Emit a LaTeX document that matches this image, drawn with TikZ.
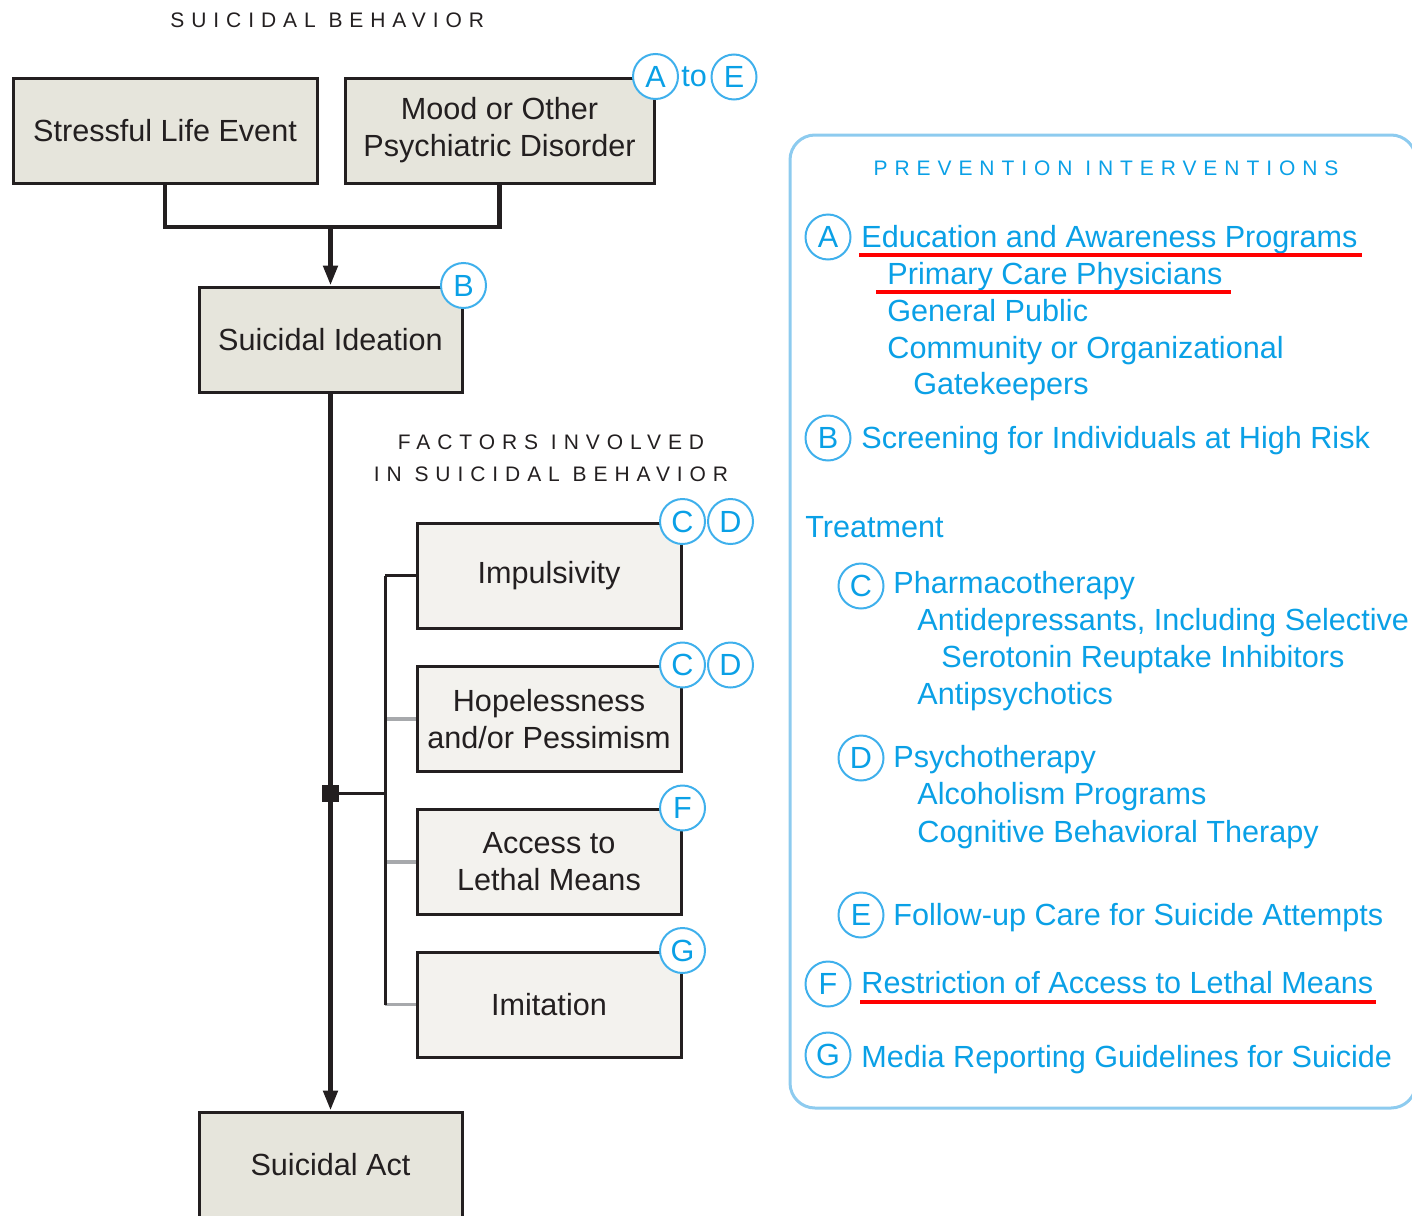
\documentclass[tikz,border=0pt]{standalone}
\usepackage{fontspec}
\setmainfont{Liberation Sans}
\newfontfamily\spacedfont[LetterSpace=33]{Liberation Sans}
\usetikzlibrary{arrows.meta}
\definecolor{ink}{HTML}{231F20}
\definecolor{fillA}{HTML}{E6E5DC}
\definecolor{fillB}{HTML}{F3F2EE}
\definecolor{blu}{HTML}{0AA0E6}
\definecolor{blucirc}{HTML}{3FB0EC}
\definecolor{panelblue}{HTML}{8DCBEF}
\definecolor{brgrey}{HTML}{A7A9AC}
\definecolor{redul}{HTML}{FF0000}
\newcommand{\mainsz}{\fontsize{15.3}{18.5}\selectfont}
\newcommand{\titlesz}{\fontsize{10.5}{16}\selectfont\spacedfont}
\begin{document}
\begin{tikzpicture}[x=0.5pt,y=-0.5pt,
  box/.style={draw=ink,line width=1.5pt,fill=fillA,minimum height=52.5pt,inner sep=0pt,align=center,font=\mainsz,text=ink},
  fbox/.style={box,fill=fillB,minimum width=132pt},
  badge/.style={circle,draw=blucirc,line width=1pt,fill=white,minimum size=22.5pt,inner sep=0pt,text=blu,font=\mainsz},
  conn/.style={draw=ink,line width=2.4pt},
  arr/.style={conn,-{Triangle[width=7pt,length=10pt]}},
  brk/.style={draw=ink,line width=1.5pt},
  gbrk/.style={draw=brgrey,line width=1.7pt},
  item/.style={anchor=base west,inner sep=0pt,text=blu,font=\mainsz},
  ttl/.style={inner sep=0pt,text=ink,font=\titlesz},
  uline/.style={draw=redul,line width=2pt}
]
\useasboundingbox (0,0) rectangle (1412,1215);
\clip (0,0) rectangle (1412,1215);

% ---------- right panel ----------
\node[draw=panelblue,line width=1.5pt,rounded corners=12.5pt,minimum width=313pt,minimum height=486.5pt,inner sep=0pt] (panel) at (1103,621.5) {};

% ---------- titles ----------
\node[ttl,anchor=base west] (t1) at (170,27) {SUICIDAL BEHAVIOR};
\node[ttl,align=center] (t2) at (551,458) {FACTORS INVOLVED\\IN SUICIDAL BEHAVIOR};
\node[ttl,text=blu,anchor=base] (t3) at (1106,175) {PREVENTION INTERVENTIONS};

% ---------- boxes ----------
\node[box,minimum width=152pt] (stress) at (165,130.5) {Stressful Life Event};
\node[box,minimum width=154.5pt] (mood) at (499.5,130.5) {Mood or Other\\Psychiatric Disorder};
\node[box,minimum width=131.5pt] (idea) at (330.5,339.5) {Suicidal Ideation};
\node[box,minimum width=131.5pt] (act) at (330.5,1164.5) {Suicidal Act};

\node[fbox] (imp) at (549,575.5) {Impulsivity};
\node[fbox] (hope) at (549,719) {Hopelessness\\and/or Pessimism};
\node[fbox] (acc) at (549,862) {Access to\\Lethal Means};
\node[fbox] (imi) at (549,1004.5) {Imitation};

% ---------- connectors ----------
\coordinate (j1) at (330.5,227);
\draw[conn] (stress.south) |- (j1) -| (mood.south);
\draw[arr] (j1) -- (idea.north);
\draw[arr] (idea.south) -- (act.north);
\node[fill=ink,minimum size=8.5pt,inner sep=0pt] (sq) at (330.5,793) {};
\coordinate (br) at (385,793);
\draw[gbrk] (hope.west -| br) -- (hope.west);
\draw[gbrk] (acc.west -| br) -- (acc.west);
\draw[gbrk] (imi.west -| br) -- (imi.west);
\draw[brk] (imp.west -| br) -- (imp.west);
\draw[brk] (sq) -- (br);
\draw[brk] (imp.west -| br) -- (imi.west -| br);

% ---------- badges on diagram ----------
\node[badge] (bA) at (mood.north east) {A};
\node[text=blu,font=\mainsz,inner sep=0pt] (to) at (694,77) {to};
\node[badge] (bE) at (734,77) {E};
\node[badge] (bB) at (idea.north east) {B};
\node[badge] (bC1) at (imp.north east) {C};
\node[badge] (bD1) at ([xshift=24pt]imp.north east) {D};
\node[badge] (bC2) at (hope.north east) {C};
\node[badge] (bD2) at ([xshift=24pt]hope.north east) {D};
\node[badge] (bF) at (acc.north east) {F};
\node[badge] (bG) at (imi.north east) {G};

% ---------- panel content ----------
\node[badge] (pA) at (828,237) {A};
\node[item] (eA) at (861,247.5) {Education and Awareness Programs};
\node[item] (eA1) at (887,284) {Primary Care Physicians};
\node[item] (eA2) at (887,321) {General Public};
\node[item] (eA3) at (887,358) {Community or Organizational};
\node[item] (eA4) at (913,394) {Gatekeepers};
\draw[uline] ([xshift=-1pt,yshift=-3.75pt]eA.base west) -- ([xshift=2pt,yshift=-3.75pt]eA.base east);
\draw[uline] ([xshift=-5.5pt,yshift=-3.75pt]eA1.base west) -- ([xshift=4pt,yshift=-3.75pt]eA1.base east);

\node[badge] (pB) at (828,438) {B};
\node[item] (eB) at (861,448) {Screening for Individuals at High Risk};

\node[item] (tr) at (805,537) {Treatment};

\node[badge] (pC) at (861,586) {C};
\node[item] (eC) at (893,593) {Pharmacotherapy};
\node[item] (eC1) at (917,630) {Antidepressants, Including Selective};
\node[item] (eC2) at (941,667) {Serotonin Reuptake Inhibitors};
\node[item] (eC3) at (917,704) {Antipsychotics};

\node[badge] (pD) at (861,758) {D};
\node[item] (eD) at (893,767) {Psychotherapy};
\node[item] (eD1) at (917,804) {Alcoholism Programs};
\node[item] (eD2) at (917,842) {Cognitive Behavioral Therapy};

\node[badge] (pE) at (861,915) {E};
\node[item] (eE) at (893,925) {Follow-up Care for Suicide Attempts};

\node[badge] (pF) at (828,984) {F};
\node[item] (eF) at (861,993) {Restriction of Access to Lethal Means};
\draw[uline] ([xshift=-0.5pt,yshift=-4.5pt]eF.base west) -- ([xshift=1pt,yshift=-4.5pt]eF.base east);

\node[badge] (pG) at (828,1055) {G};
\node[item] (eG) at (861,1067) {Media Reporting Guidelines for Suicide};
\end{tikzpicture}
\end{document}
